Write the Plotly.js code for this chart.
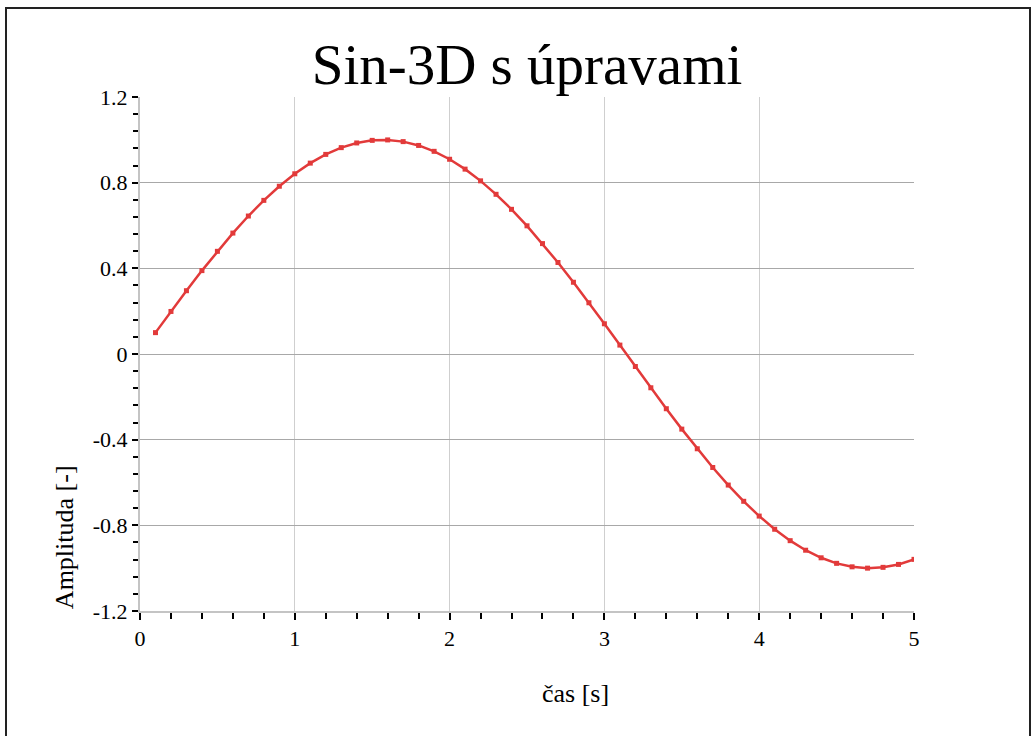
<!DOCTYPE html>
<html>
<head>
<meta charset="utf-8">
<script src="https://cdn.plot.ly/plotly-3.0.1.min.js"></script>
<style>
  html, body { margin: 0; padding: 0; background: #fff; }
  #wrap { position: relative; width: 1035px; height: 736px; overflow: hidden; }
  #chart { position: absolute; left: 0; top: 0; width: 1035px; height: 736px; }
  #frame { position: absolute; left: 5px; top: 7px; width: 1022px; height: 760px; border: 2px solid #222; pointer-events: none; }
</style>
</head>
<body>
<div id="wrap">
  <div id="chart"></div>
  <div id="frame"></div>
</div>
<script>
const chartTitle = "Sin-3D s úpravami";
const xTitle = "čas [s]";
const yTitle = "Amplituda [-]";

const time = [0.1,0.2,0.3,0.4,0.5,0.6,0.7,0.8,0.9,1.0,
              1.1,1.2,1.3,1.4,1.5,1.6,1.7,1.8,1.9,2.0,
              2.1,2.2,2.3,2.4,2.5,2.6,2.7,2.8,2.9,3.0,
              3.1,3.2,3.3,3.4,3.5,3.6,3.7,3.8,3.9,4.0,
              4.1,4.2,4.3,4.4,4.5,4.6,4.7,4.8,4.9,5.0];
const amplitude = [0.0998,0.1987,0.2955,0.3894,0.4794,0.5646,0.6442,0.7174,0.7833,0.8415,
                   0.8912,0.9320,0.9636,0.9854,0.9975,0.9996,0.9917,0.9738,0.9463,0.9093,
                   0.8632,0.8085,0.7457,0.6755,0.5985,0.5155,0.4274,0.3350,0.2392,0.1411,
                   0.0416,-0.0584,-0.1577,-0.2555,-0.3508,-0.4425,-0.5298,-0.6119,-0.6878,-0.7568,
                   -0.8183,-0.8716,-0.9162,-0.9516,-0.9775,-0.9937,-0.9999,-0.9962,-0.9825,-0.9589];

const xTickVals = [0,1,2,3,4,5];
const xTickText = ["0","1","2","3","4","5"];
const yTickVals = [-1.2,-0.8,-0.4,0,0.4,0.8,1.2];
const yTickText = ["-1.2","-0.8","-0.4","0","0.4","0.8","1.2"];

const serif = "'Liberation Serif', 'Times New Roman', serif";

const trace = {
  x: time, y: amplitude, type: 'scatter', mode: 'lines+markers',
  line: { color: '#e23a3a', width: 2.5 },
  marker: { color: '#e23a3a', size: 5, symbol: 'square' },
  hoverinfo: 'x+y', showlegend: false
};

const layout = {
  width: 1035, height: 736,
  paper_bgcolor: '#ffffff', plot_bgcolor: '#ffffff',
  margin: { l: 140, r: 121, t: 97, b: 125 },
  font: { family: serif, color: '#000' },
  title: {
    text: chartTitle,
    font: { family: serif, size: 57, color: '#000' },
    x: 0.5, xref: 'paper', xanchor: 'center',
    y: 0.913, yref: 'container', yanchor: 'middle'
  },
  xaxis: {
    range: [0, 5], tickmode: 'array', tickvals: xTickVals, ticktext: xTickText,
    showgrid: true, gridcolor: '#cfcfcf', gridwidth: 1, zeroline: false,
    showline: true, linecolor: '#c4c4c4', linewidth: 2,
    ticks: 'outside', ticklen: 7, tickwidth: 2, tickcolor: '#000',
    tickfont: { family: serif, size: 22, color: '#000' },
    minor: { tickmode: 'linear', tick0: 0, dtick: 0.2, ticks: 'outside', ticklen: 6, tickwidth: 2, tickcolor: '#000', showgrid: false },
    fixedrange: true
  },
  yaxis: {
    range: [-1.2, 1.2], tickmode: 'array', tickvals: yTickVals, ticktext: yTickText,
    showgrid: true, gridcolor: '#a8a8a8', gridwidth: 1, zeroline: false,
    showline: true, linecolor: '#c4c4c4', linewidth: 2,
    ticks: 'outside', ticklen: 6, tickwidth: 2, tickcolor: '#000',
    tickfont: { family: serif, size: 22, color: '#000' },
    minor: { tickmode: 'linear', tick0: 0, dtick: 0.08, ticks: 'outside', ticklen: 5, tickwidth: 2, tickcolor: '#000', showgrid: false },
    fixedrange: true
  },
  annotations: [
    { text: xTitle, xref: 'paper', yref: 'paper', x: 0.563, y: -0.16, xanchor: 'center', yanchor: 'middle',
      showarrow: false, font: { family: serif, size: 26, color: '#000' } },
    { text: yTitle, xref: 'paper', yref: 'paper', x: -0.098, y: 0, xanchor: 'center', yanchor: 'bottom',
      textangle: -90, showarrow: false, font: { family: serif, size: 26, color: '#000' } }
  ]
};

Plotly.newPlot('chart', [trace], layout, { displayModeBar: false, staticPlot: true });
</script>
</body>
</html>
